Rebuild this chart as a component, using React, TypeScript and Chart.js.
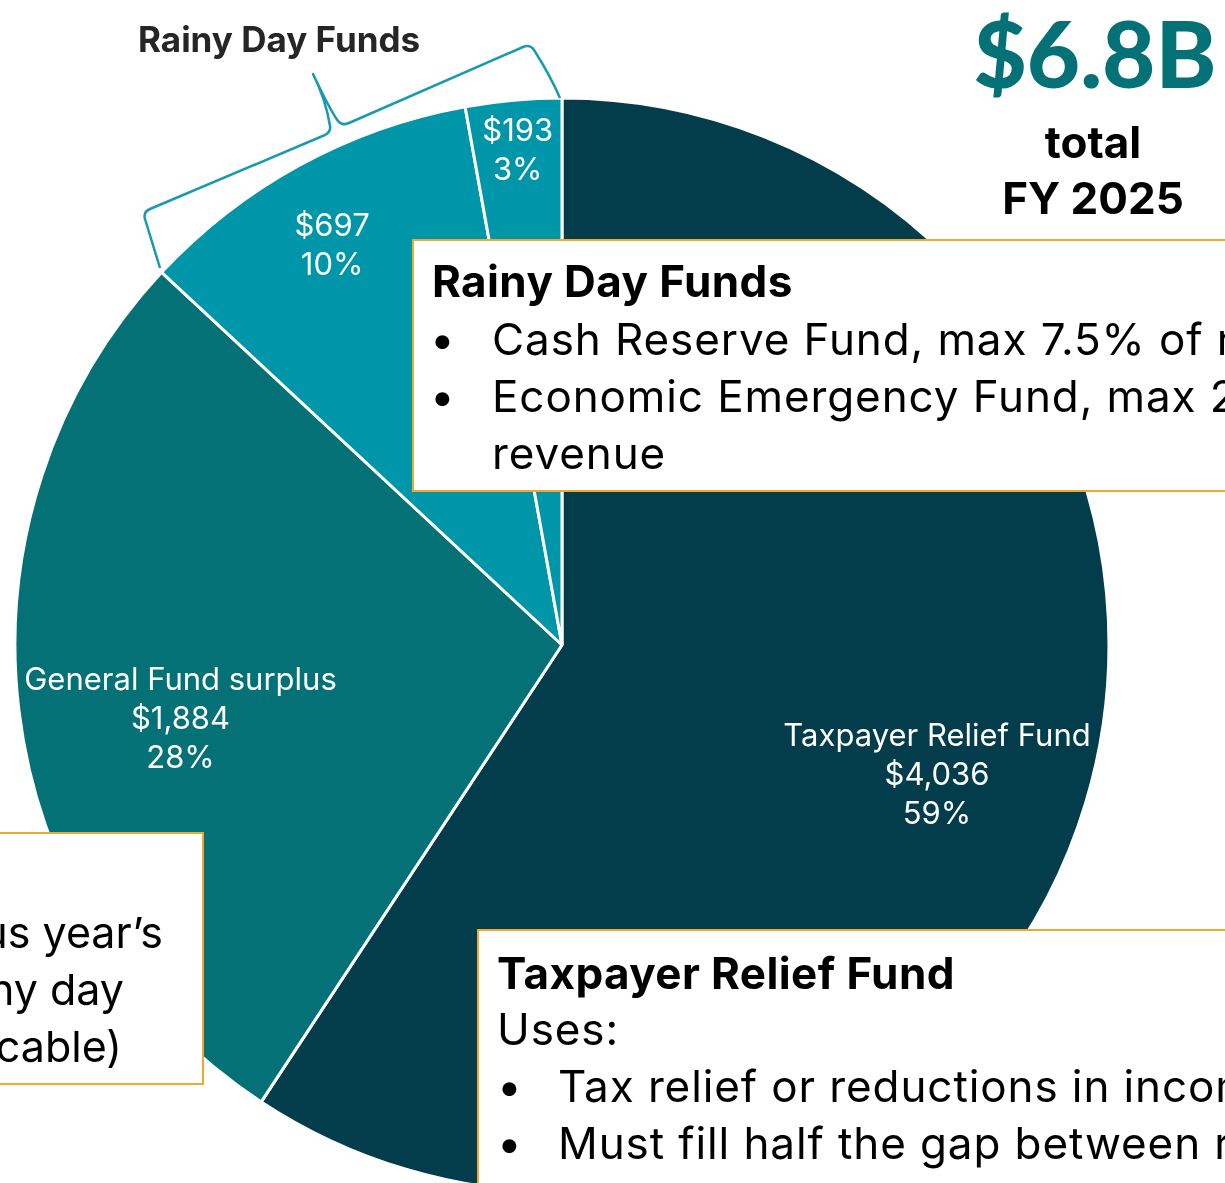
import React, { useEffect, useRef } from "react";
import { Chart, registerables } from "chart.js";

Chart.register(...registerables);

const categories = [
  "Taxpayer Relief Fund",
  "General Fund surplus",
  "Cash Reserve Fund",
  "Economic Emergency Fund",
];
const valuesM = [4036, 1884, 697, 193];
const showName = [true, true, false, false];
const sliceColors = ["#033d4c", "#037175", "#0096a9", "#0096a9"];

// label placement (fraction of radius, angle offset in degrees)
const labelRadiusFrac = [0.725, 0.71, 0.845, 0.91];
const labelAngleOffset = [2.3, -3.95, -1.2, 0];

const FONT = "Inter, 'Noto Sans', sans-serif";

const sliceLabelPlugin = {
  id: "sliceLabels",
  afterDatasetsDraw(chart: any) {
    const ctx = chart.ctx;
    const meta = chart.getDatasetMeta(0);
    const total = valuesM.reduce((a, b) => a + b, 0);
    ctx.save();
    ctx.fillStyle = "#ffffff";
    ctx.textAlign = "center";
    ctx.textBaseline = "middle";
    ctx.font = `400 31px ${FONT}`;
    meta.data.forEach((el: any, i: number) => {
      const p = el.getProps(["x", "y", "startAngle", "endAngle", "outerRadius"], true);
      const mid = (p.startAngle + p.endAngle) / 2 + (labelAngleOffset[i] * Math.PI) / 180;
      const r = p.outerRadius * labelRadiusFrac[i];
      const cx = p.x + Math.cos(mid) * r;
      const cy = p.y + Math.sin(mid) * r + 2;
      const lines: string[] = [];
      if (showName[i]) lines.push(categories[i]);
      lines.push("$" + valuesM[i].toLocaleString("en-US"));
      lines.push(Math.round((valuesM[i] / total) * 100) + "%");
      const lh = 39;
      const y0 = cy - ((lines.length - 1) * lh) / 2;
      lines.forEach((t, k) => ctx.fillText(t, cx, y0 + k * lh));
    });
    ctx.restore();
  },
};

const boxStyle: React.CSSProperties = {
  position: "absolute",
  background: "#ffffff",
  border: "2px solid #f0a92e",
  boxSizing: "border-box",
  fontFamily: FONT,
  color: "#000",
};

const TXT = 44;
const BODY_SPACING = "0.9px";

export default function App() {
  const ref = useRef<HTMLCanvasElement | null>(null);
  useEffect(() => {
    if (!ref.current) return;
    const chart = new Chart(ref.current, {
      type: "pie",
      data: {
        labels: categories,
        datasets: [
          {
            data: valuesM,
            backgroundColor: sliceColors,
            borderColor: "#ffffff",
            borderWidth: 3,
            radius: 547,
          } as any,
        ],
      },
      options: {
        responsive: false,
        animation: false,
        layout: { padding: 0 },
        plugins: {
          legend: { display: false },
          tooltip: { enabled: false },
        },
      },
      plugins: [sliceLabelPlugin],
    });
    return () => chart.destroy();
  }, []);

  const line = (left: number, top: number, text: string, extra: React.CSSProperties = {}) => (
    <div
      style={{
        position: "absolute",
        left,
        top,
        fontSize: TXT,
        lineHeight: "57px",
        whiteSpace: "nowrap",
        letterSpacing: BODY_SPACING,
        ...extra,
      }}
    >
      {text}
    </div>
  );
  const bullet = (left: number, textLeft: number, top: number, text: string) => (
    <>
      {line(left, top, "•")}
      {line(textLeft, top, text)}
    </>
  );
  const rline = (right: number, top: number, text: string) => (
    <div
      style={{
        position: "absolute",
        right,
        top,
        fontSize: 43,
        lineHeight: "57px",
        whiteSpace: "nowrap",
        letterSpacing: "0px",
      }}
    >
      {text}
    </div>
  );

  return (
    <div
      style={{
        position: "absolute",
        left: 0,
        top: 0,
        width: 1225,
        height: 1183,
        overflow: "hidden",
        background: "#ffffff",
        fontFamily: FONT,
      }}
    >
      <canvas
        ref={ref}
        width={1100}
        height={1100}
        style={{ position: "absolute", left: 12, top: 95, width: 1100, height: 1100 }}
      />

      {/* Brace over rainy day slices */}
      <svg width={1225} height={1183} style={{ position: "absolute", left: 0, top: 0 }}>
        <path
          d="M 160 268 L 145 219 Q 143 212 150 209 L 325 135 Q 331 132 330 126 Q 326 100 313 74 Q 330 110 338 121 Q 342 126 349 123 L 523 47 Q 530 44 534 50 Q 550 75 560 98"
          fill="none"
          stroke="#1a9aae"
          strokeWidth={2.5}
          strokeLinejoin="round"
        />
      </svg>
      <div
        style={{
          position: "absolute",
          left: 138,
          top: 16,
          fontSize: 35,
          fontWeight: 700,
          color: "#262626",
          whiteSpace: "nowrap",
          lineHeight: "46px",
        }}
      >
        Rainy Day Funds
      </div>

      {/* Total */}
      <div
        style={{
          position: "absolute",
          left: 955,
          width: 280,
          top: 0,
          textAlign: "center",
          fontFamily: "Lato, sans-serif",
          fontWeight: 900,
          fontSize: 92,
          lineHeight: "106px",
          color: "#037175",
        }}
      >
        $6.8B
      </div>
      <div
        style={{
          position: "absolute",
          left: 955,
          width: 276,
          top: 114,
          textAlign: "center",
          fontWeight: 700,
          fontSize: 44,
          lineHeight: "56px",
          color: "#000",
        }}
      >
        total
        <br />
        FY 2025
      </div>

      {/* Rainy day box */}
      <div style={{ ...boxStyle, left: 412, top: 239, width: 900, height: 253 }}>
        {line(18, 12, "Rainy Day Funds", { fontWeight: 700, letterSpacing: "0.4px" })}
        {bullet(16, 78, 70, "Cash Reserve Fund, max 7.5% of revenue")}
        {bullet(16, 78, 127, "Economic Emergency Fund, max 2.5% of")}
        {line(78, 184, "revenue")}
      </div>

      {/* General fund box (mostly off-canvas to the left) */}
      <div style={{ ...boxStyle, left: -300, top: 832, width: 504, height: 253 }}>
        {rline(39, 70, "Surplus from previous year’s")}
        {rline(78, 127, "after rainy day")}
        {rline(80, 184, "deposits (if applicable)")}
      </div>

      {/* Taxpayer relief box */}
      <div style={{ ...boxStyle, left: 477, top: 929, width: 900, height: 400 }}>
        {line(18, 14, "Taxpayer Relief Fund", { fontWeight: 700, letterSpacing: "0.4px" })}
        {line(18, 70, "Uses:")}
        {bullet(18, 79, 127, "Tax relief or reductions in income tax rates")}
        {bullet(18, 79, 184, "Must fill half the gap between revenue")}
        {line(79, 241, "and spending")}
      </div>
    </div>
  );
}
